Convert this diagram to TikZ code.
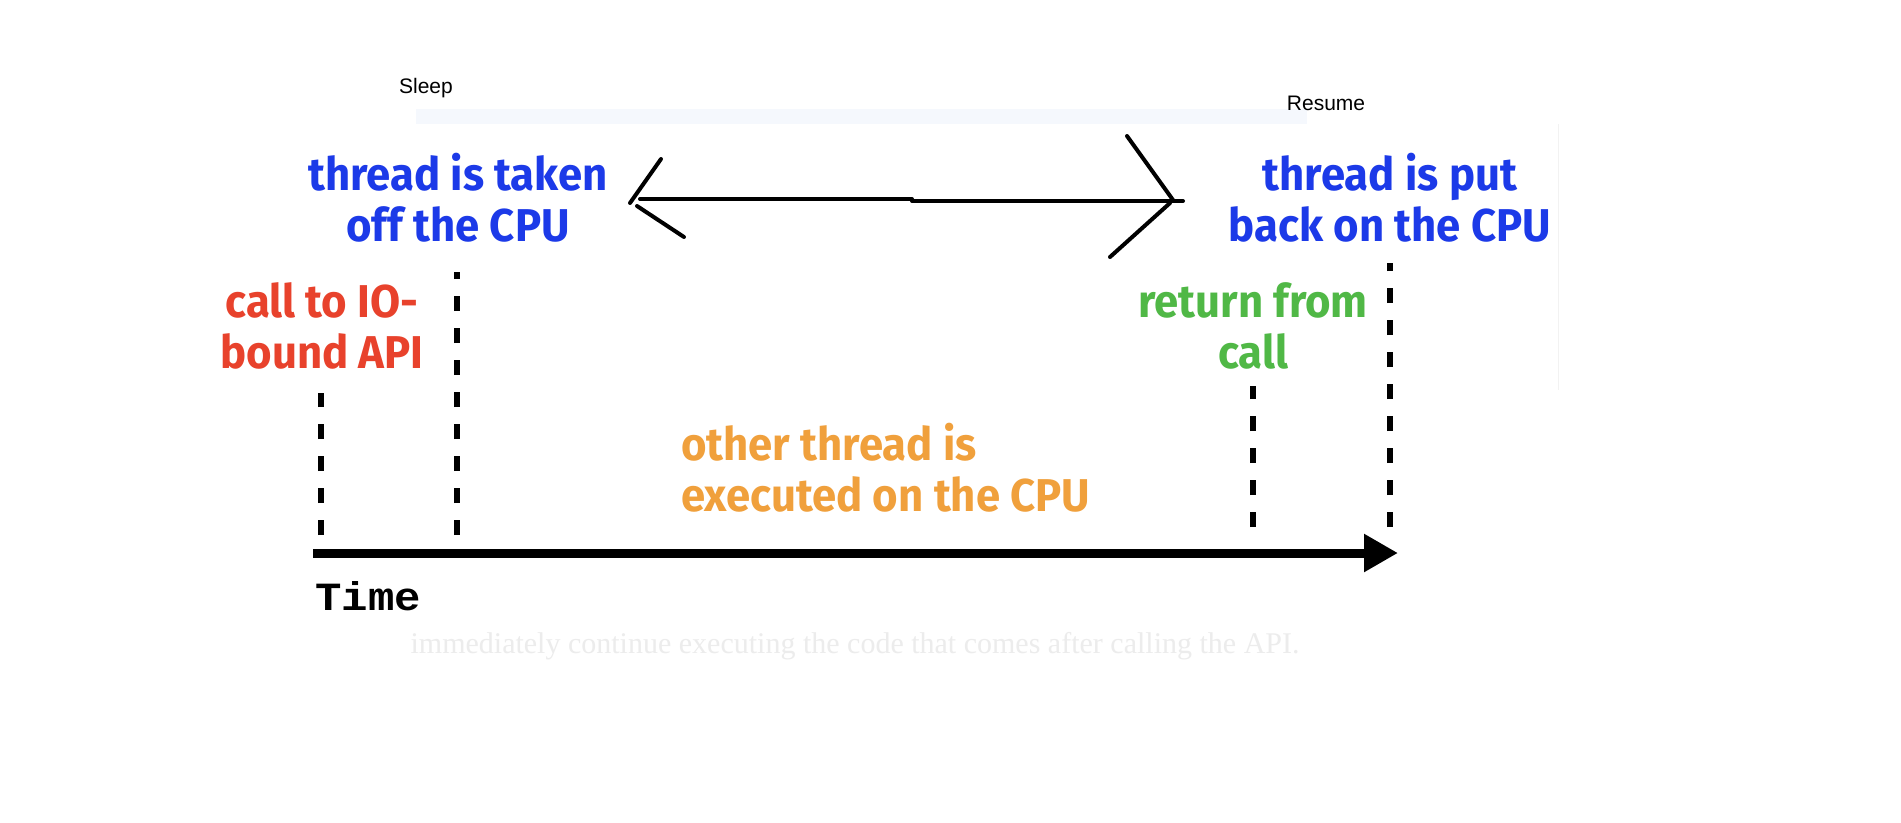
\documentclass[tikz,border=0pt]{standalone}
\usepackage{fontspec}
\setmainfont{Liberation Sans}
\newfontfamily\handfont[FakeStretch=0.95]{Fira Sans}
\newfontfamily\timefont[FakeStretch=1.1]{Liberation Mono}
\newfontfamily\faintfont{Liberation Serif}
\usetikzlibrary{arrows.meta}
\definecolor{cblue}{RGB}{28,58,232}
\definecolor{cred}{RGB}{232,66,44}
\definecolor{cgreen}{RGB}{80,184,70}
\definecolor{corange}{RGB}{240,160,60}
\definecolor{bandcol}{RGB}{245,248,253}
\definecolor{faintcol}{RGB}{236,236,236}
\definecolor{edgecol}{RGB}{242,242,242}
\begin{document}
\begin{tikzpicture}[x=1pt,y=-1pt,
  hand/.style={font=\handfont\bfseries\fontsize{46}{51}\selectfont, align=center, inner sep=0pt},
  smalllabel/.style={font=\fontsize{21}{25}\selectfont, inner sep=0pt},
  tickline/.style={line width=6pt, dash pattern=on 15pt off 17pt},
  sketch/.style={line width=4pt, line cap=round},
]
\useasboundingbox (0,0) rectangle (1901,822);
\fill[white] (0,0) rectangle (1901,822);
\fill[bandcol] (416,109) rectangle (1307,124);
\draw[edgecol, line width=1pt] (1558,124) -- (1558,390);

\node[smalllabel] (sleep) at (426,88) {Sleep};
\node[smalllabel] (resume) at (1326,103) {Resume};

\node[hand, text=cblue] (taken) at (458,198) {thread is taken\\off the CPU};
\node[hand, text=cblue] (put) at (1390,198) {thread is put\\back on the CPU};
\node[hand, text=cred] (call) at (322,326) {call to IO-\\bound API};
\node[hand, text=cgreen] (ret) at (1253,326) {return from\\call};
\node[hand, text=corange, align=left, anchor=west] (other) at (681,468) {other thread is\\executed on the CPU};

\node[font=\timefont\bfseries\fontsize{40}{40}\selectfont, inner sep=0pt, anchor=base west] (time) at (315,610) {Time};
\node[font=\faintfont\fontsize{30}{30}\selectfont, text=faintcol, inner sep=0pt] (note) at (855,646) {immediately continue executing the code that comes after calling the API.};

% time axis
\coordinate (t0) at (313,553);
\coordinate (t1) at (1398,553);
\draw[line width=9pt, -{Triangle[length=34pt, width=36pt]}] (t0) -- (t1);

% dashed markers
\coordinate (a0) at (321,535); \coordinate (a1) at (321,393);
\coordinate (b0) at (457,535); \coordinate (b1) at (457,272);
\coordinate (c0) at (1253,527); \coordinate (c1) at (1253,386);
\coordinate (d0) at (1390,527); \coordinate (d1) at (1390,263);
\draw[tickline] (a0) -- (a1);
\draw[tickline] (b0) -- (b1);
\draw[tickline] (c0) -- (c1);
\draw[tickline] (d0) -- (d1);

% hand drawn double arrow
\coordinate (ltip) at (630,203);
\coordinate (lup) at (661,159);
\coordinate (llo0) at (637,206);
\coordinate (llo) at (684,237);
\coordinate (s0) at (640,199);
\coordinate (sm0) at (912,199);
\coordinate (sm1) at (912,201);
\coordinate (s1) at (1183,201);
\coordinate (rtip) at (1173,200);
\coordinate (rup) at (1127,136);
\coordinate (rlo0) at (1170,203);
\coordinate (rlo) at (1110,257);
\draw[sketch] (s0) -- (sm0);
\draw[sketch] (sm1) -- (s1);
\draw[sketch] (lup) -- (ltip);
\draw[sketch] (llo0) -- (llo);
\draw[sketch] (rup) -- (rtip);
\draw[sketch] (rlo0) -- (rlo);
\end{tikzpicture}
\end{document}
